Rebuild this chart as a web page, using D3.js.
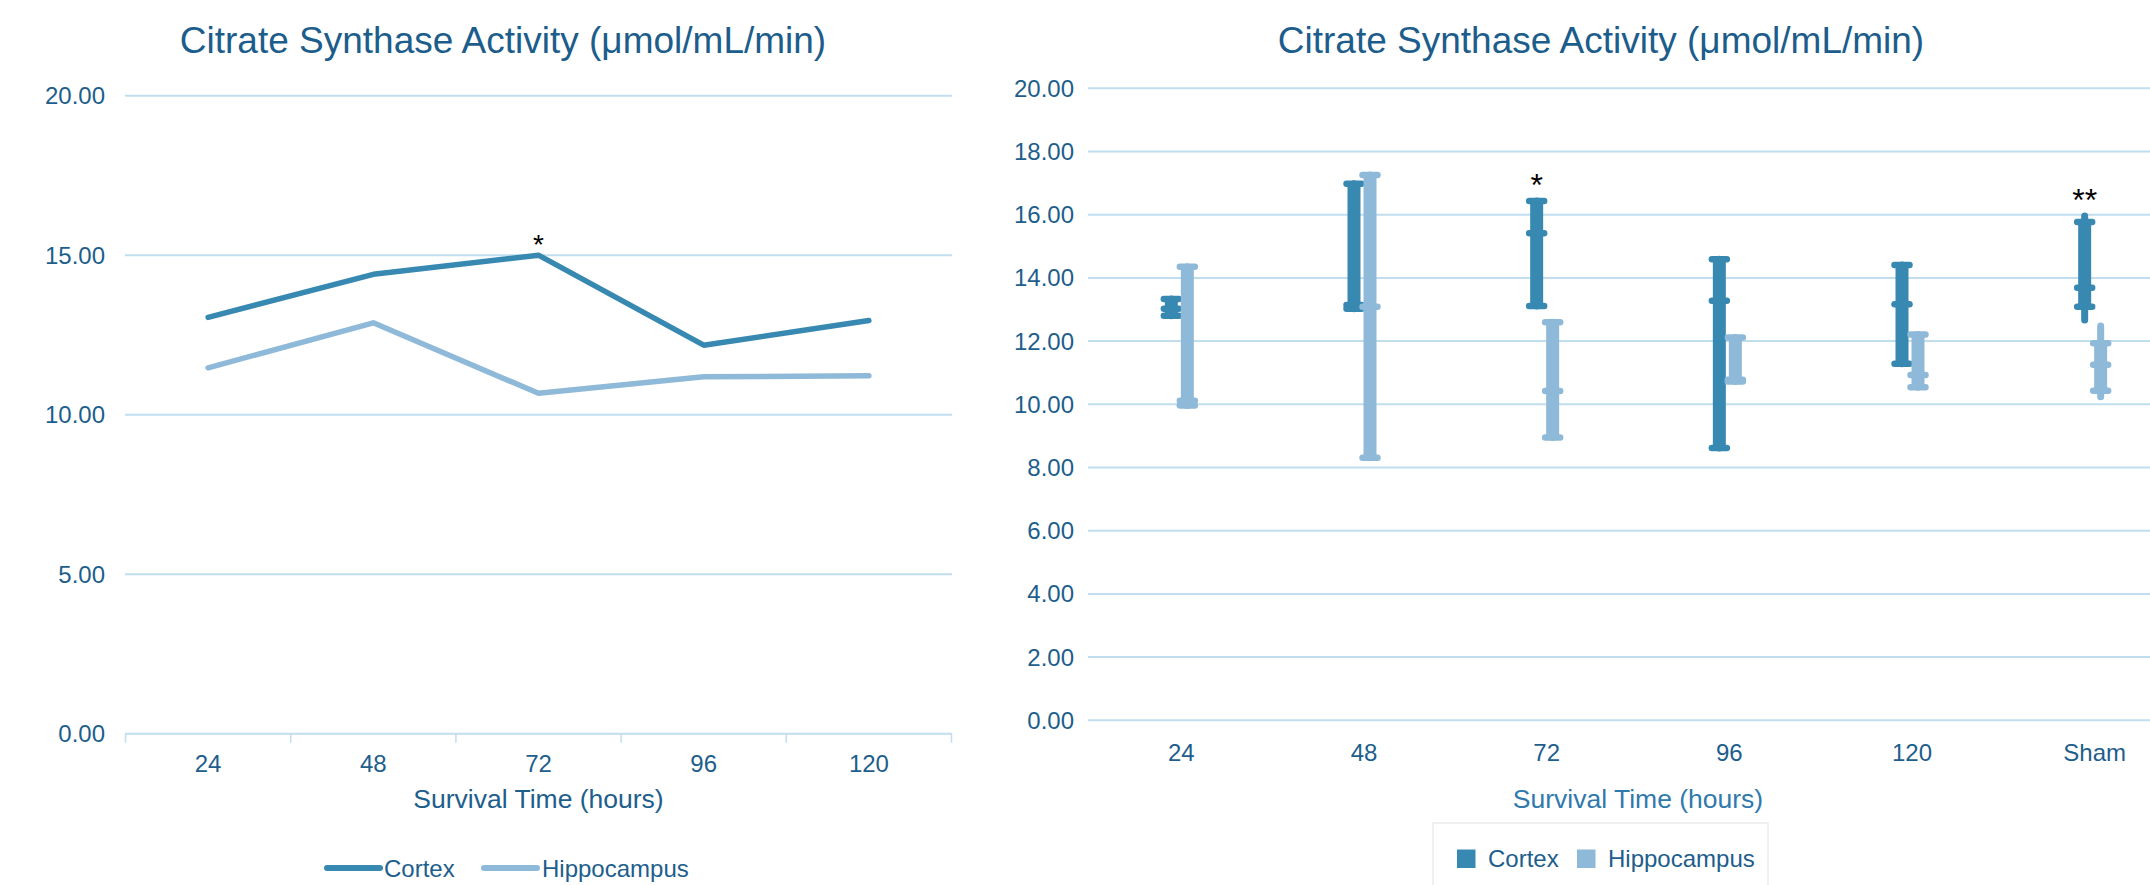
<!DOCTYPE html>
<html lang="en">
	<head>
		<meta charset="UTF-8" />
		<title>Citrate Synthase Activity</title>
		<script src="https://d3js.org/d3.v7.min.js"></script>
		<style>
			body {
				margin: 0;
				background: #fff;
			}
			svg {
				display: block;
				font-family: "Liberation Sans", Arial, sans-serif;
			}
			.grid {
				stroke: #c0deee;
				stroke-width: 2;
			}
			.tick-label {
				fill: #1d5e8c;
				font-size: 24px;
			}
		</style>
	</head>
	<body>
		<svg id="chart"></svg>

		<script>
			// Data
			const SERIES = ["Cortex", "Hippocampus"];
			const COLORS = { Cortex: "#3889b2", Hippocampus: "#8fb9d8" };

			// left: mean per survival time
			const LINE_CATS = ["24", "48", "72", "96", "120"];
			const CORTEX_MEAN = [13.05, 14.4, 15.0, 12.18, 12.95];
			const HIPPO_MEAN = [11.47, 12.88, 10.67, 11.19, 11.22];
			const LINE_TICKS = [0, 5, 10, 15, 20];

			// right: box plot stats [min, q1, median, q3, max]
			const BOX_CATS = ["24", "48", "72", "96", "120", "Sham"];
			const CORTEX_BOX = [
				[12.8, 12.8, 13.02, 13.33, 13.33],
				[13.02, 13.02, 13.14, 16.98, 16.98],
				[13.11, 13.11, 15.41, 16.43, 16.43],
				[8.62, 8.62, 13.28, 14.59, 14.59],
				[11.28, 11.28, 13.17, 14.41, 14.41],
				[12.67, 13.09, 13.69, 15.77, 15.96],
			];
			const HIPPO_BOX = [
				[9.96, 9.96, 10.11, 14.35, 14.35],
				[8.31, 8.31, 13.09, 17.26, 17.26],
				[8.95, 8.95, 10.42, 12.6, 12.6],
				[10.72, 10.72, 10.78, 12.11, 12.11],
				[10.54, 10.54, 10.93, 12.21, 12.21],
				[10.24, 10.43, 11.25, 11.93, 12.48],
			];
			const BOX_TICKS = [0, 2, 4, 6, 8, 10, 12, 14, 16, 18, 20];

			const TITLE = "Citrate Synthase Activity (\u03bcmol/mL/min)";
			const X_TITLE = "Survival Time (hours)";

			const WIDTH = 2150;
			const HEIGHT = 885;

			const svg = d3.select("#chart").attr("width", WIDTH).attr("height", HEIGHT);

			// ---------- Left chart (lines) ----------
			const left = svg.append("g");
			const xL = d3.scaleBand().domain(LINE_CATS).range([125.5, 951.5]);
			const yL = d3.scaleLinear().domain([0, 20]).range([733.7, 95.7]);
			const cx = (c) => xL(c) + xL.bandwidth() / 2;

			left.append("text")
				.attr("x", 503)
				.attr("y", 53)
				.attr("text-anchor", "middle")
				.attr("font-size", 37)
				.attr("fill", "#1c5d8b")
				.text(TITLE);

			left.selectAll(".grid")
				.data(LINE_TICKS)
				.enter()
				.append("line")
				.attr("class", "grid")
				.attr("x1", 125)
				.attr("x2", 952)
				.attr("y1", (d) => yL(d))
				.attr("y2", (d) => yL(d));

			left.selectAll(".ylab")
				.data(LINE_TICKS)
				.enter()
				.append("text")
				.attr("class", "tick-label")
				.attr("x", 105)
				.attr("y", (d) => yL(d))
				.attr("dy", "0.35em")
				.attr("text-anchor", "end")
				.text((d) => d3.format(".2f")(d));

			// category tick marks at band edges
			const edges = LINE_CATS.map((c) => xL(c)).concat([xL.range()[1]]);
			left.selectAll(".xtick")
				.data(edges)
				.enter()
				.append("line")
				.attr("x1", (d) => d)
				.attr("x2", (d) => d)
				.attr("y1", yL(0))
				.attr("y2", yL(0) + 9)
				.attr("stroke", "#c0deee")
				.attr("stroke-width", 1.5);

			left.selectAll(".xlab")
				.data(LINE_CATS)
				.enter()
				.append("text")
				.attr("class", "tick-label")
				.attr("x", cx)
				.attr("y", 772)
				.attr("text-anchor", "middle")
				.text((d) => d);

			left.append("text")
				.attr("x", (xL.range()[0] + xL.range()[1]) / 2)
				.attr("y", 808)
				.attr("text-anchor", "middle")
				.attr("font-size", 26.5)
				.attr("fill", "#1d5e8c")
				.text(X_TITLE);

			const line = d3
				.line()
				.x((d, i) => cx(LINE_CATS[i]))
				.y((d) => yL(d));

			[
				["Cortex", CORTEX_MEAN],
				["Hippocampus", HIPPO_MEAN],
			].forEach(([name, vals]) => {
				left.append("path")
					.datum(vals)
					.attr("d", line)
					.attr("fill", "none")
					.attr("stroke", COLORS[name])
					.attr("stroke-width", 5.5)
					.attr("stroke-linecap", "round")
					.attr("stroke-linejoin", "round");
			});

			left.append("text")
				.attr("x", cx("72"))
				.attr("y", yL(CORTEX_MEAN[2]) - 1)
				.attr("text-anchor", "middle")
				.attr("font-size", 28)
				.attr("fill", "#000")
				.text("*");

			// legend left
			const legL = left.append("g");
			[
				["Cortex", 327, 384],
				["Hippocampus", 484, 542],
			].forEach(([name, sx, tx]) => {
				legL.append("line")
					.attr("x1", sx)
					.attr("x2", sx + 53)
					.attr("y1", 868)
					.attr("y2", 868)
					.attr("stroke", COLORS[name])
					.attr("stroke-width", 6)
					.attr("stroke-linecap", "round");
				legL.append("text")
					.attr("class", "tick-label")
					.attr("x", tx)
					.attr("y", 877)
					.text(name);
			});

			// ---------- Right chart (box plots) ----------
			const right = svg.append("g");
			const xR = d3.scaleBand().domain(BOX_CATS).range([1090, 2186]);
			const yR = d3.scaleLinear().domain([0, 20]).range([720.3, 88.3]);
			const sub = d3.scalePoint().domain(SERIES).range([-10, 6]);
			const cxR = (c) => xR(c) + xR.bandwidth() / 2;

			right.append("text")
				.attr("x", 1601)
				.attr("y", 53)
				.attr("text-anchor", "middle")
				.attr("font-size", 37)
				.attr("fill", "#1c5d8b")
				.text(TITLE);

			right.selectAll(".grid")
				.data(BOX_TICKS)
				.enter()
				.append("line")
				.attr("class", "grid")
				.attr("x1", 1088)
				.attr("x2", WIDTH)
				.attr("y1", (d) => yR(d))
				.attr("y2", (d) => yR(d));

			right.selectAll(".ylab")
				.data(BOX_TICKS)
				.enter()
				.append("text")
				.attr("class", "tick-label")
				.attr("x", 1074)
				.attr("y", (d) => yR(d))
				.attr("dy", "0.35em")
				.attr("text-anchor", "end")
				.text((d) => d3.format(".2f")(d));

			right.selectAll(".xlab")
				.data(BOX_CATS)
				.enter()
				.append("text")
				.attr("class", "tick-label")
				.attr("x", cxR)
				.attr("y", 761)
				.attr("text-anchor", "middle")
				.text((d) => d);

			right.append("text")
				.attr("x", (xR.range()[0] + xR.range()[1]) / 2)
				.attr("y", 808)
				.attr("text-anchor", "middle")
				.attr("font-size", 26.5)
				.attr("fill", "#3079ad")
				.text(X_TITLE);

			function drawBox(g, x, s, color) {
				const [mn, q1, med, q3, mx] = s;
				// whisker
				g.append("line")
					.attr("x1", x)
					.attr("x2", x)
					.attr("y1", yR(mn))
					.attr("y2", yR(mx))
					.attr("stroke", color)
					.attr("stroke-width", 7)
					.attr("stroke-linecap", "round");
				// box
				g.append("line")
					.attr("x1", x)
					.attr("x2", x)
					.attr("y1", yR(q1))
					.attr("y2", yR(q3))
					.attr("stroke", color)
					.attr("stroke-width", 13);
				// caps
				g.selectAll(null)
					.data([q1, med, q3])
					.enter()
					.append("line")
					.attr("x1", x - 7.5)
					.attr("x2", x + 7.5)
					.attr("y1", (d) => yR(d))
					.attr("y2", (d) => yR(d))
					.attr("stroke", color)
					.attr("stroke-width", 6.5)
					.attr("stroke-linecap", "round");
			}

			const boxes = right.append("g");
			BOX_CATS.forEach((c, i) => {
				drawBox(boxes, cxR(c) + sub("Cortex"), CORTEX_BOX[i], COLORS.Cortex);
				drawBox(boxes, cxR(c) + sub("Hippocampus"), HIPPO_BOX[i], COLORS.Hippocampus);
			});

			// significance marks
			[
				["72", "*"],
				["Sham", "**"],
			].forEach(([c, mark]) => {
				const i = BOX_CATS.indexOf(c);
				right.append("text")
					.attr("x", cxR(c) + sub("Cortex"))
					.attr("y", yR(CORTEX_BOX[i][4]) - 5)
					.attr("text-anchor", "middle")
					.attr("font-size", 32)
					.attr("fill", "#000")
					.text(mark);
			});

			// legend right
			const legR = right.append("g");
			legR.append("rect")
				.attr("x", 1433)
				.attr("y", 823)
				.attr("width", 335)
				.attr("height", 80)
				.attr("fill", "#fff")
				.attr("stroke", "#ececec")
				.attr("stroke-width", 1.5);
			[
				["Cortex", 1457, 1488],
				["Hippocampus", 1577, 1608],
			].forEach(([name, sx, tx]) => {
				legR.append("rect")
					.attr("x", sx)
					.attr("y", 849.5)
					.attr("width", 18.5)
					.attr("height", 18.5)
					.attr("fill", COLORS[name]);
				legR.append("text")
					.attr("class", "tick-label")
					.attr("x", tx)
					.attr("y", 867)
					.attr("fill", "#1b5a85")
					.text(name);
			});
		</script>
	</body>
</html>
